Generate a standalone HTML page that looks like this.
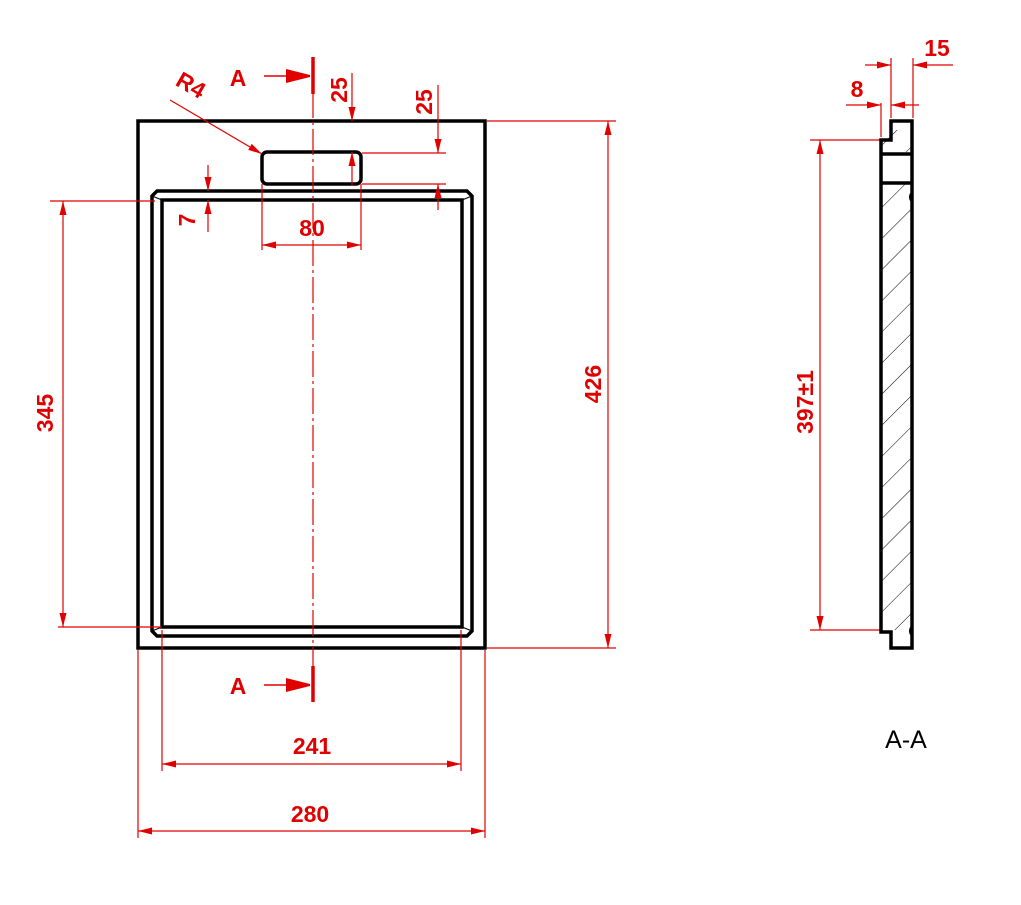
<!DOCTYPE html>
<html><head><meta charset="utf-8"><style>
html,body{margin:0;padding:0;background:#fff;}
svg{display:block;}
text{font-family:"Liberation Sans",sans-serif;font-size:23px;fill:#e00000;font-weight:bold;}
</style></head><body>
<svg width="1021" height="905" viewBox="0 0 1021 905" xmlns="http://www.w3.org/2000/svg">
<defs>
<marker id="a" viewBox="0 0 14 8" refX="14" refY="4" markerWidth="14" markerHeight="8" markerUnits="userSpaceOnUse" orient="auto-start-reverse"><path d="M0,0.5 L14,4 L0,7.5 z" fill="#e00000"/></marker>
<marker id="b" viewBox="0 0 24 14" refX="24" refY="7" markerWidth="24" markerHeight="14" markerUnits="userSpaceOnUse" orient="auto"><path d="M0,0 L24,6 L24,8 L0,14 z" fill="#e00000"/></marker>
<pattern id="h" width="22" height="22" patternUnits="userSpaceOnUse" patternTransform="rotate(45)"><line x1="0" y1="0" x2="0" y2="22" stroke="#000" stroke-width="1"/></pattern>
</defs>
<g fill="none" stroke="#000" stroke-width="3.5">
<rect x="138" y="121" width="347" height="527"/>
<path d="M157,191 L467,191 L472,196 L472,631 L467,636 L157,636 L152,631 L152,196 Z"/>
<rect x="162" y="200" width="300" height="427"/>
<rect x="262" y="152" width="99" height="32" rx="5"/>
</g>
<g stroke="#000" stroke-width="1.2">
<line x1="152" y1="196" x2="162" y2="200"/><line x1="472" y1="196" x2="462" y2="200"/>
<line x1="152" y1="631" x2="162" y2="627"/><line x1="472" y1="631" x2="462" y2="627"/>
</g>
<g stroke="#e00000" stroke-width="1.2" fill="none">
<line x1="313" y1="92" x2="313" y2="668" stroke-dasharray="26,4,3,4"/>
<line x1="264" y1="76" x2="310" y2="76" marker-end="url(#b)" stroke-width="1.5"/>
<line x1="264" y1="685" x2="310" y2="685" marker-end="url(#b)" stroke-width="1.5"/>
<line x1="352" y1="73" x2="352" y2="121" marker-end="url(#a)"/>
<line x1="352" y1="185" x2="352" y2="152" marker-end="url(#a)"/>
<line x1="362" y1="153" x2="446" y2="153"/><line x1="362" y1="184" x2="446" y2="184"/>
<line x1="438" y1="85" x2="438" y2="153" marker-end="url(#a)"/>
<line x1="438" y1="210" x2="438" y2="184" marker-end="url(#a)"/>
<line x1="208" y1="165" x2="208" y2="191" marker-end="url(#a)"/>
<line x1="208" y1="232" x2="208" y2="200" marker-end="url(#a)"/>
<line x1="262" y1="184" x2="262" y2="250"/><line x1="361" y1="184" x2="361" y2="250"/>
<line x1="262" y1="245" x2="361" y2="245" marker-start="url(#a)" marker-end="url(#a)"/>
<line x1="170" y1="100" x2="262" y2="154" marker-end="url(#a)"/>
<line x1="50" y1="201" x2="155" y2="201"/><line x1="58" y1="627" x2="162" y2="627"/>
<line x1="63" y1="201" x2="63" y2="627" marker-start="url(#a)" marker-end="url(#a)"/>
<line x1="487" y1="121" x2="616" y2="121"/><line x1="487" y1="648" x2="616" y2="648"/>
<line x1="608" y1="121" x2="608" y2="648" marker-start="url(#a)" marker-end="url(#a)"/>
<line x1="162" y1="630" x2="162" y2="771"/><line x1="461" y1="630" x2="461" y2="771"/>
<line x1="162" y1="764" x2="461" y2="764" marker-start="url(#a)" marker-end="url(#a)"/>
<line x1="138" y1="650" x2="138" y2="838"/><line x1="485" y1="650" x2="485" y2="838"/>
<line x1="138" y1="831" x2="485" y2="831" marker-start="url(#a)" marker-end="url(#a)"/>
<line x1="810" y1="140" x2="880" y2="140"/><line x1="810" y1="630" x2="880" y2="630"/>
<line x1="820" y1="140" x2="820" y2="630" marker-start="url(#a)" marker-end="url(#a)"/>
<line x1="881" y1="103" x2="881" y2="137"/><line x1="891" y1="58" x2="891" y2="118"/><line x1="913" y1="58" x2="913" y2="118"/>
<line x1="846" y1="105" x2="881" y2="105" marker-end="url(#a)"/>
<line x1="919" y1="105" x2="891" y2="105" marker-end="url(#a)"/>
<line x1="865" y1="65" x2="891" y2="65" marker-end="url(#a)"/>
<line x1="953" y1="65" x2="913" y2="65" marker-end="url(#a)"/>
</g>
<g stroke="#e00000" stroke-width="3.5">
<line x1="313" y1="57" x2="313" y2="94"/><line x1="313" y1="666" x2="313" y2="702"/>
</g>
<path d="M881,140 L891,130 L911,130 L911,152 L881,152 Z M881,184 L911,184 L911,630 L881,630 Z" fill="url(#h)"/>
<g fill="none" stroke="#000" stroke-width="3.5">
<path d="M891,121 L912,121 L912,648 L891,648 L891,632 L881,632 L881,140 L891,140 Z"/>
<line x1="881" y1="154" x2="912" y2="154"/><line x1="881" y1="183" x2="912" y2="183"/>
</g>
<path d="M912,192 a3,5 0 0 0 0,10 Z M912,626 a3,5 0 0 0 0,10 Z" fill="#000"/>
<text x="238" y="86" text-anchor="middle">A</text>
<text x="238" y="694" text-anchor="middle">A</text>
<text transform="translate(347,90) rotate(-90)" text-anchor="middle">25</text>
<text transform="translate(432,102) rotate(-90)" text-anchor="middle">25</text>
<text transform="translate(195,220) rotate(-90)" text-anchor="middle">7</text>
<text transform="translate(187,92) rotate(30)" text-anchor="middle">R4</text>
<text x="312" y="236" text-anchor="middle">80</text>
<text transform="translate(53,413) rotate(-90)" text-anchor="middle">345</text>
<text transform="translate(601,384) rotate(-90)" text-anchor="middle">426</text>
<text transform="translate(813,402) rotate(-90)" text-anchor="middle">397±1</text>
<text x="312" y="754" text-anchor="middle">241</text>
<text x="310" y="822" text-anchor="middle">280</text>
<text x="857" y="97" text-anchor="middle">8</text>
<text x="937" y="56" text-anchor="middle">15</text>
<text x="906" y="748" text-anchor="middle" style="fill:#000;font-weight:normal;font-size:25px">A-A</text>
</svg>
</body></html>
